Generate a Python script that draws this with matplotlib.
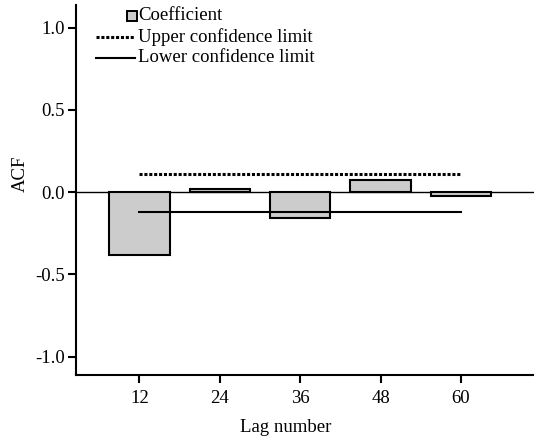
import matplotlib
matplotlib.use("Agg")
import matplotlib.pyplot as plt
from matplotlib.ticker import FuncFormatter

plt.rcParams['font.family'] = ['Liberation Serif', 'DejaVu Serif']

lags = [12, 24, 36, 48, 60]
acf = [-0.38, 0.02, -0.155, 0.072, -0.025]
upper = [0.11, 0.11, 0.11, 0.11, 0.11]
lower = [-0.118, -0.118, -0.118, -0.118, -0.118]
yticks = [-1.0, -0.5, 0.0, 0.5, 1.0]

fig = plt.figure(figsize=(5.34, 4.43), dpi=100)
ax = fig.add_axes([76/534, 1-375/443, 1-76/534, (375-5)/443])

ax.axhline(0, color='black', lw=1.0, zorder=1)
ax.bar(lags, acf, width=9.0, color='#cccccc', edgecolor='black', linewidth=1.5, zorder=2)
ax.plot(lags, upper, color='black', lw=2.2, linestyle=(0, (1, 0.6)), zorder=3)
ax.plot(lags, lower, color='black', lw=1.5, linestyle='-', zorder=3)

ax.set_xlim(2.52, 70.9)
ax.set_ylim(-1.111, 1.138)
ax.set_xticks(lags)
ax.set_yticks(yticks)
ax.yaxis.set_major_formatter(FuncFormatter(lambda v, p: f"{v:.1f}".replace('\u2212', '-')))

for s in ['top', 'right']:
    ax.spines[s].set_visible(False)
for s in ['left', 'bottom']:
    ax.spines[s].set_linewidth(1.5)

ax.tick_params(axis='y', direction='out', length=6, width=1.5, pad=2, labelsize=13.5)
ax.tick_params(axis='x', direction='out', length=5.5, width=1.5, pad=5, labelsize=13.5)

ax.set_xlabel('Lag number', fontsize=13.5)
ax.xaxis.set_label_coords(286/534, 1-419/443, transform=fig.transFigure)
ax.set_ylabel('ACF', fontsize=13.5)
ax.yaxis.set_label_coords(29/534, 1-174/443, transform=fig.transFigure)

# legend drawn manually (no frame)
tf = fig.transFigure
def fx(px):
    return px/534
def fy(py):
    return 1-py/443
leg_rows = [('Coefficient', 15), ('Upper confidence limit', 37), ('Lower confidence limit', 58)]
fig.add_artist(plt.Line2D([fx(132)], [fy(16)], marker='s', markersize=7, markerfacecolor='#cccccc',
                          markeredgecolor='black', markeredgewidth=1.4, linestyle='none', transform=tf))
fig.add_artist(plt.Line2D([fx(96), fx(135)], [fy(37), fy(37)], color='black', lw=2.2,
                          linestyle=(0, (1, 0.6)), transform=tf))
fig.add_artist(plt.Line2D([fx(96), fx(135)], [fy(58), fy(58)], color='black', lw=1.5, transform=tf))
for label, py in leg_rows:
    fig.text(fx(138), fy(py), label, fontsize=13.5, va='center', ha='left')

fig.savefig('out.png', dpi=100)
